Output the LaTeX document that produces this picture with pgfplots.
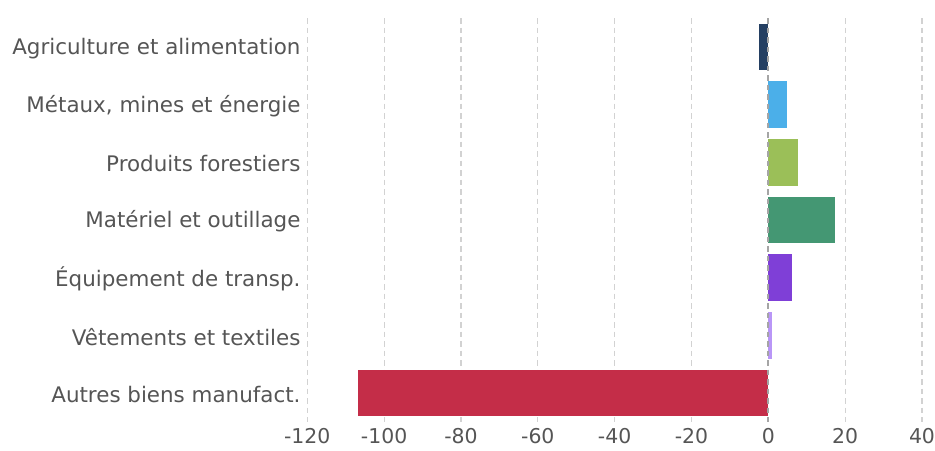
\documentclass[border=0pt]{standalone}
\usepackage{fontspec}
\setmainfont{DejaVu Sans}
\usepackage{pgfplots}
\pgfplotsset{compat=1.18}
\definecolor{txt}{HTML}{555555}
\definecolor{gridc}{HTML}{D2D2D2}
\definecolor{zeroc}{HTML}{A5A5A5}
\definecolor{c1}{HTML}{243F62}
\definecolor{c2}{HTML}{4BAFE9}
\definecolor{c3}{HTML}{9BBF58}
\definecolor{c4}{HTML}{449773}
\definecolor{c5}{HTML}{7F3FD7}
\definecolor{c6}{HTML}{B996F7}
\definecolor{c7}{HTML}{C42D48}
\begin{document}
\begin{tikzpicture}
\useasboundingbox (-307.3bp,-29bp) rectangle (627.7bp,422bp);
\begin{axis}[
  scale only axis, width=614.7bp, height=404bp,
  xmin=-120, xmax=40, ymin=-0.5, ymax=6.5, y dir=reverse,
  xtick={-120,-100,...,40}, ytick={0,...,6},
  yticklabels={Agriculture et alimentation, {Métaux, mines et énergie}, Produits forestiers, Matériel et outillage, Équipement de transp., Vêtements et textiles, Autres biens manufact.},
  axis line style={draw=none}, major tick style={draw=none},
  xmajorgrids, grid style={draw=gridc, line width=1.2bp, dash pattern=on 5.5bp off 4bp},
  xticklabel style={font=\fontsize{20.5}{24}\selectfont, text=txt, yshift=-3bp},
  yticklabel style={font=\fontsize{21.5}{25}\selectfont, text=txt, xshift=1bp, yshift=-1.5bp},
  /pgf/number format/assume math mode=true,
  xbar, bar width=46.7bp, bar shift=0pt,
]
\addplot[fill=c1, draw=none] coordinates {(-2.4,0)};
\addplot[fill=c2, draw=none] coordinates {(4.9,1)};
\addplot[fill=c3, draw=none] coordinates {(7.7,2)};
\addplot[fill=c4, draw=none] coordinates {(17.4,3)};
\addplot[fill=c5, draw=none] coordinates {(6.2,4)};
\addplot[fill=c6, draw=none] coordinates {(0.9,5)};
\addplot[fill=c7, draw=none] coordinates {(-106.9,6)};
\draw[zeroc, line width=1.8bp, dash pattern=on 5.5bp off 4bp] (axis cs:0,-0.5) -- (axis cs:0,6.5);
\end{axis}
\end{tikzpicture}
\end{document}
